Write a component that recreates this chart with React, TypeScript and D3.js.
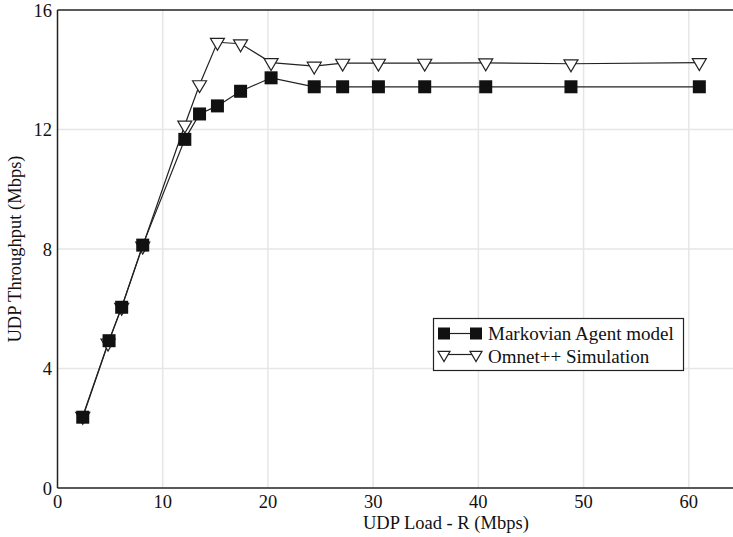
import React from "react";
import * as d3 from "d3";

// UDP load (Mbps) per sample
const loadMarkov = [2.4, 4.9, 6.1, 8.1, 12.1, 13.5, 15.2, 17.4, 20.3, 24.4, 27.1, 30.5, 34.9, 40.7, 48.8, 61.0];
const throughputMarkov = [2.37, 4.93, 6.05, 8.13, 11.67, 12.52, 12.79, 13.28, 13.73, 13.43, 13.43, 13.43, 13.43, 13.43, 13.43, 13.43];

const loadOmnet = [2.4, 4.8, 6.1, 8.1, 12.1, 13.5, 15.2, 17.4, 20.3, 24.4, 27.1, 30.5, 34.9, 40.7, 48.8, 61.0];
const throughputOmnet = [2.4, 4.85, 6.05, 8.1, 12.15, 13.5, 14.92, 14.87, 14.24, 14.12, 14.22, 14.22, 14.22, 14.23, 14.2, 14.24];

const xTicks = [0, 10, 20, 30, 40, 50, 60];
const yTicks = [0, 4, 8, 12, 16];

const legendLabels = ["Markovian Agent model", "Omnet++ Simulation"];

const W = 733;
const H = 537;
const margin = { top: 10, right: 0, bottom: 49, left: 57.5 };

const font = "Liberation Serif, Tinos, Times New Roman, DejaVu Serif, serif";

export default function App() {
  const x = d3.scaleLinear().domain([0, 64.2]).range([margin.left, W - margin.right]);
  const y = d3.scaleLinear().domain([0, 16]).range([H - margin.bottom, margin.top]);

  const markov = loadMarkov.map((v, i) => [v, throughputMarkov[i]] as [number, number]);
  const omnet = loadOmnet.map((v, i) => [v, throughputOmnet[i]] as [number, number]);

  const line = d3.line<[number, number]>().x(d => x(d[0])).y(d => y(d[1]));

  const sq = 13;
  const tri = (cx: number, cy: number, s = 14) => {
    const h = s * 0.85;
    return `M${cx - s / 2},${cy - h / 2}L${cx + s / 2},${cy - h / 2}L${cx},${cy + h / 2}Z`;
  };

  const lx = 433.5, ly = 318.5, lw = 250, lh = 52;

  return (
    <svg width={W} height={H} style={{ position: "absolute", left: 0, top: 0, background: "#fff" }}>
      {/* grid */}
      <g stroke="#e6e6e6" strokeWidth={1.5}>
        {xTicks.filter(t => t > 0).map(t => (
          <line key={"gx" + t} x1={x(t)} x2={x(t)} y1={y(0)} y2={y(16)} />
        ))}
        {yTicks.filter(t => t > 0 && t < 16).map(t => (
          <line key={"gy" + t} x1={x(0)} x2={W} y1={y(t)} y2={y(t)} />
        ))}
      </g>

      {/* frame */}
      <g stroke="#222" strokeWidth={1.5} fill="none">
        <line x1={x(0)} x2={W} y1={y(0)} y2={y(0)} />
        <line x1={x(0)} x2={W} y1={y(16)} y2={y(16)} />
        <line x1={x(0)} x2={x(0)} y1={y(0)} y2={y(16)} />
      </g>

      {/* tick labels + titles */}
      <g style={{ fontFamily: font, fontSize: 18.5 }} fill="#111">
        {xTicks.map(t => (
          <text key={"tx" + t} x={x(t)} y={y(0) + 20} textAnchor="middle">{t}</text>
        ))}
        {yTicks.map(t => (
          <text key={"ty" + t} x={x(0) - 5.5} y={y(t) + 6.5} textAnchor="end">{t}</text>
        ))}
        <text x={363} y={H - 8}>UDP Load - R (Mbps)</text>
        <text transform={`translate(21,${(y(0) + y(16)) / 2}) rotate(-90)`} textAnchor="middle">UDP Throughput (Mbps)</text>
      </g>

      {/* series */}
      <path d={line(omnet) ?? ""} fill="none" stroke="#222" strokeWidth={1.2} />
      <path d={line(markov) ?? ""} fill="none" stroke="#222" strokeWidth={1.2} />
      {omnet.map((d, i) => (
        <path key={"o" + i} d={tri(x(d[0]), y(d[1]) + 2)} fill="#fff" stroke="#222" strokeWidth={1.2} />
      ))}
      {markov.map((d, i) => (
        <rect key={"m" + i} x={x(d[0]) - sq / 2} y={y(d[1]) - sq / 2} width={sq} height={sq} fill="#111" />
      ))}

      {/* legend */}
      <g style={{ fontFamily: font, fontSize: 19 }} fill="#111">
        <rect x={lx} y={ly} width={lw} height={lh} fill="#fff" stroke="#222" strokeWidth={1.2} />
        <line x1={444} x2={476} y1={ly + 15} y2={ly + 15} stroke="#222" strokeWidth={1.2} />
        <rect x={444 - 6} y={ly + 9} width={12} height={12} fill="#111" />
        <rect x={476 - 6} y={ly + 9} width={12} height={12} fill="#111" />
        <text x={488} y={ly + 21}>{legendLabels[0]}</text>
        <line x1={444} x2={476} y1={ly + 36} y2={ly + 36} stroke="#222" strokeWidth={1.2} />
        <path d={tri(444, ly + 38, 12)} fill="#fff" stroke="#222" strokeWidth={1.2} />
        <path d={tri(476, ly + 38, 12)} fill="#fff" stroke="#222" strokeWidth={1.2} />
        <text x={488} y={ly + 44.5}>{legendLabels[1]}</text>
      </g>
    </svg>
  );
}
